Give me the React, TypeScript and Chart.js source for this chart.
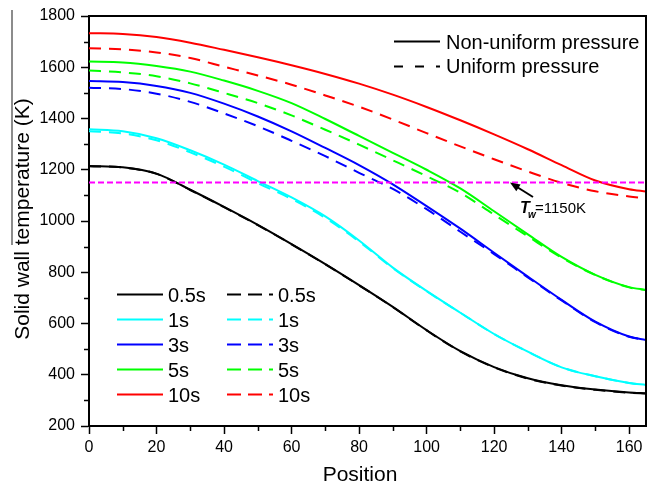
import { useEffect, useRef } from 'react';
import { Chart, registerables } from 'chart.js';

Chart.register(...registerables);

// ---------- data ----------
const positions = [0, 10, 20, 30, 40, 50, 60, 70, 80, 90, 100, 110, 120, 130, 140, 150, 160, 165];
const timeLabels = ['0.5s', '1s', '3s', '5s', '10s'];
const seriesColors = ['#000000', '#00FFFF', '#0000FF', '#00FF00', '#FF0000'];
const styleLabels = ['Non-uniform pressure', 'Uniform pressure'];

// Non-uniform pressure (solid)
const nonUniform05s = [1215, 1210, 1185, 1122, 1055, 985, 910, 832, 750, 665, 574, 492, 430, 386, 359, 342, 331, 328];
const nonUniform1s = [1358, 1350, 1323, 1276, 1220, 1156, 1092, 1018, 924, 818, 727, 642, 559, 490, 429, 394, 368, 360];
const nonUniform3s = [1546, 1542, 1527, 1500, 1458, 1408, 1350, 1285, 1218, 1143, 1058, 970, 876, 783, 692, 607, 549, 536];
const nonUniform5s = [1622, 1619, 1605, 1583, 1548, 1508, 1460, 1398, 1332, 1266, 1200, 1127, 1038, 948, 860, 790, 742, 731];
const nonUniform10s = [1733, 1730, 1718, 1696, 1668, 1639, 1608, 1574, 1536, 1493, 1445, 1393, 1338, 1280, 1218, 1158, 1124, 1115];

// Uniform pressure (dashed)
const uniform05s = [1214, 1209, 1184, 1121, 1054, 984, 909, 831, 749, 664, 573, 491, 429, 385, 358, 341, 330, 327];
const uniform1s = [1350, 1342, 1315, 1268, 1212, 1148, 1086, 1012, 920, 816, 726, 642, 559, 490, 429, 394, 368, 360];
const uniform3s = [1520, 1515, 1497, 1465, 1420, 1370, 1313, 1253, 1188, 1125, 1046, 958, 871, 780, 690, 605, 548, 535];
const uniform5s = [1587, 1580, 1565, 1537, 1500, 1460, 1412, 1356, 1298, 1237, 1175, 1110, 1025, 940, 857, 789, 741, 730];
const uniform10s = [1674, 1670, 1658, 1636, 1602, 1568, 1532, 1490, 1446, 1396, 1343, 1291, 1241, 1193, 1149, 1116, 1096, 1088];

const wallTempLine = [1150, 1150];
const wallTempPositions = [0, 165];
const arrowTipPosition = 124.7;
const annotationValue = '=1150K';

const xMinorTicks = [10, 30, 50, 70, 90, 110, 130, 150];
const yMinorTicks = [300, 500, 700, 900, 1100, 1300, 1500, 1700];

const nonUniformSeries = [nonUniform05s, nonUniform1s, nonUniform3s, nonUniform5s, nonUniform10s];
const uniformSeries = [uniform05s, uniform1s, uniform3s, uniform5s, uniform10s];

const FONT = '"Liberation Sans", Arial, Helvetica, sans-serif';

const toPoints = (xs: number[], ys: number[]) => xs.map((x, i) => ({ x, y: ys[i] }));

const decorPlugin = {
  id: 'decor',
  afterDraw(chart: any) {
    const { ctx, chartArea: ca, scales } = chart;
    const x = scales.x;
    const y = scales.y;
    ctx.save();

    // frame top / right
    ctx.strokeStyle = '#000';
    ctx.lineWidth = 2;
    ctx.beginPath();
    ctx.moveTo(ca.left - 1, ca.top);
    ctx.lineTo(ca.right, ca.top);
    ctx.lineTo(ca.right, ca.bottom + 1);
    ctx.stroke();

    // minor ticks
    ctx.lineWidth = 1.5;
    ctx.beginPath();
    xMinorTicks.forEach((v) => {
      const px = Math.round(x.getPixelForValue(v)) + 0.5;
      ctx.moveTo(px, ca.bottom);
      ctx.lineTo(px, ca.bottom + 5);
    });
    yMinorTicks.forEach((v) => {
      const py = Math.round(y.getPixelForValue(v)) + 0.5;
      ctx.moveTo(ca.left, py);
      ctx.lineTo(ca.left - 5, py);
    });
    ctx.stroke();

    // gray line at far left (as in the source image)
    ctx.strokeStyle = '#8c8c8c';
    ctx.lineWidth = 2;
    ctx.beginPath();
    ctx.moveTo(12, 10);
    ctx.lineTo(12, 245);
    ctx.stroke();

    // axis titles
    ctx.fillStyle = '#000';
    ctx.font = `21px ${FONT}`;
    ctx.textAlign = 'center';
    ctx.textBaseline = 'alphabetic';
    ctx.fillText('Position', 360, 481);
    ctx.save();
    ctx.translate(29, (ca.top + ca.bottom) / 2 - 2);
    ctx.rotate(-Math.PI / 2);
    ctx.fillText('Solid wall temperature (K)', 0, 0);
    ctx.restore();

    // top legend (line styles)
    ctx.textAlign = 'left';
    ctx.strokeStyle = '#000';
    ctx.lineWidth = 2;
    ctx.setLineDash([]);
    ctx.beginPath();
    ctx.moveTo(394, 41.5);
    ctx.lineTo(440, 41.5);
    ctx.stroke();
    ctx.setLineDash([9, 12]);
    ctx.beginPath();
    ctx.moveTo(394, 66.5);
    ctx.lineTo(440, 66.5);
    ctx.stroke();
    ctx.setLineDash([]);
    ctx.font = `20px ${FONT}`;
    ctx.fillText(styleLabels[0], 446, 48.5);
    ctx.fillText(styleLabels[1], 446, 73);

    // bottom-left legend (times)
    timeLabels.forEach((lab, i) => {
      const ly = 294.5 + i * 25;
      ctx.strokeStyle = seriesColors[i];
      ctx.lineWidth = 2;
      ctx.setLineDash([]);
      ctx.beginPath();
      ctx.moveTo(117, ly);
      ctx.lineTo(163, ly);
      ctx.stroke();
      ctx.setLineDash([14, 7]);
      ctx.beginPath();
      ctx.moveTo(227, ly);
      ctx.lineTo(273, ly);
      ctx.stroke();
      ctx.setLineDash([]);
      ctx.fillStyle = '#000';
      ctx.font = `20px ${FONT}`;
      ctx.fillText(lab, 168, ly + 7.5);
      ctx.fillText(lab, 278, ly + 7.5);
    });

    // annotation T_w = 1150K with arrow
    const ax = x.getPixelForValue(arrowTipPosition);
    const ay = y.getPixelForValue(1150);
    ctx.strokeStyle = '#000';
    ctx.fillStyle = '#000';
    ctx.lineWidth = 2;
    const ang = Math.atan2(197 - ay, 533 - ax);
    ctx.beginPath();
    ctx.moveTo(533, 197);
    ctx.lineTo(ax + 6 * Math.cos(ang), ay + 6 * Math.sin(ang));
    ctx.stroke();
    ctx.beginPath();
    ctx.moveTo(ax, ay);
    ctx.lineTo(ax + 10 * Math.cos(ang) - 4 * Math.sin(ang), ay + 10 * Math.sin(ang) + 4 * Math.cos(ang));
    ctx.lineTo(ax + 10 * Math.cos(ang) + 4 * Math.sin(ang), ay + 10 * Math.sin(ang) - 4 * Math.cos(ang));
    ctx.closePath();
    ctx.fill();

    ctx.font = `italic bold 16px ${FONT}`;
    ctx.fillText('T', 520, 213);
    ctx.font = `italic bold 10px ${FONT}`;
    ctx.fillText('w', 528, 218);
    ctx.font = `15px ${FONT}`;
    ctx.fillText(annotationValue, 535, 213);

    ctx.restore();
  },
};

export default function App() {
  const canvasRef = useRef<HTMLCanvasElement | null>(null);

  useEffect(() => {
    const canvas = canvasRef.current;
    if (!canvas) return;

    const datasets: any[] = [];
    datasets.push({
      label: 'Tw',
      data: toPoints(wallTempPositions, wallTempLine),
      borderColor: '#FF00FF',
      borderWidth: 2,
      borderDash: [6, 3],
      pointRadius: 0,
      fill: false,
      order: 0,
    });
    nonUniformSeries.forEach((s, i) => {
      datasets.push({
        label: `${timeLabels[i]} ${styleLabels[0]}`,
        data: toPoints(positions, s),
        borderColor: seriesColors[i],
        borderWidth: 2,
        pointRadius: 0,
        fill: false,
        cubicInterpolationMode: 'monotone',
        order: 1,
      });
    });
    uniformSeries.forEach((s, i) => {
      datasets.push({
        label: `${timeLabels[i]} ${styleLabels[1]}`,
        data: toPoints(positions, s),
        borderColor: seriesColors[i],
        borderWidth: 2,
        borderDash: [12, 8],
        pointRadius: 0,
        fill: false,
        cubicInterpolationMode: 'monotone',
        order: 2,
      });
    });

    const chart = new Chart(canvas, {
      type: 'line',
      data: { datasets },
      options: {
        responsive: false,
        animation: false,
        devicePixelRatio: 1,
        layout: { padding: { top: 16, right: 2, left: 0, bottom: 0 } },
        plugins: {
          legend: { display: false },
          tooltip: { enabled: false },
        },
        scales: {
          x: {
            type: 'linear',
            min: 0,
            max: 165,
            afterFit: (scale: any) => {
              scale.height = 60;
            },
            ticks: {
              stepSize: 20,
              includeBounds: false,
              color: '#000',
              font: { family: FONT, size: 16 },
              padding: 4,
              maxRotation: 0,
              callback: (v: any) => String(v),
            },
            grid: {
              display: true,
              drawOnChartArea: false,
              drawTicks: true,
              tickLength: 8,
              tickColor: '#000',
              tickWidth: 1.5,
            },
            border: { display: true, color: '#000', width: 2 },
          },
          y: {
            type: 'linear',
            min: 200,
            max: 1800,
            afterFit: (scale: any) => {
              scale.width = 89;
            },
            ticks: {
              stepSize: 200,
              includeBounds: false,
              color: '#000',
              font: { family: FONT, size: 16 },
              padding: 6,
              callback: (v: any) => String(v),
            },
            grid: {
              display: true,
              drawOnChartArea: false,
              drawTicks: true,
              tickLength: 8,
              tickColor: '#000',
              tickWidth: 1.5,
            },
            border: { display: true, color: '#000', width: 2 },
          },
        },
      },
      plugins: [decorPlugin],
    });

    return () => {
      chart.destroy();
    };
  }, []);

  return (
    <div style={{ position: 'absolute', left: 0, top: 0, width: 648, height: 486, background: '#fff' }}>
      <canvas ref={canvasRef} width={648} height={486} style={{ display: 'block' }} />
    </div>
  );
}
